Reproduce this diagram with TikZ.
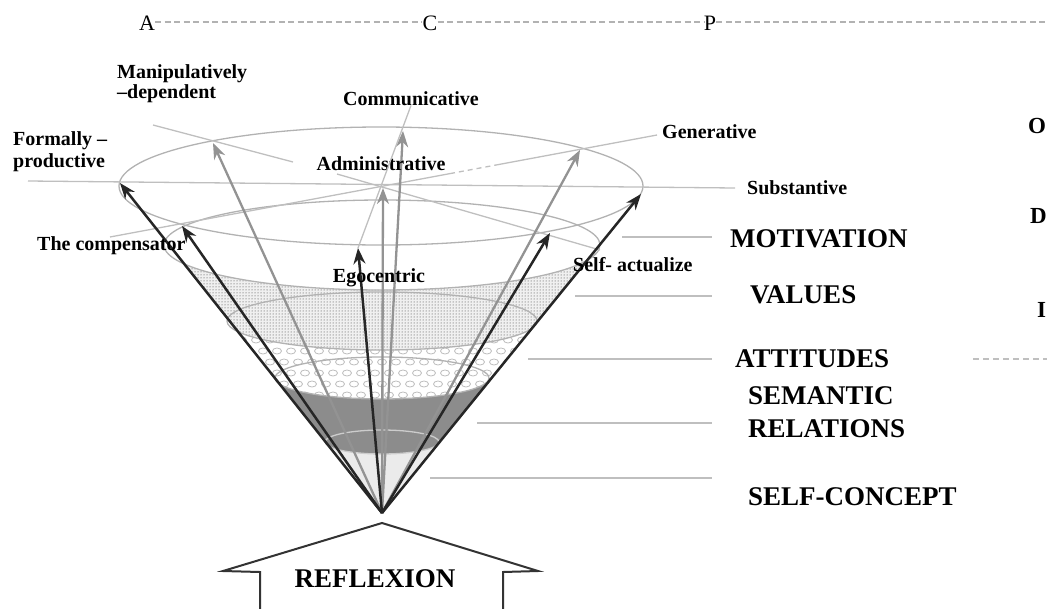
\documentclass[tikz,border=0pt]{standalone}
\usepackage{fontspec}
\setmainfont{Liberation Serif}
\usetikzlibrary{arrows.meta,patterns}

\newcommand{\lbl}{\fontsize{20}{22}\selectfont\bfseries}
\newcommand{\lvl}{\fontsize{27}{29}\selectfont\bfseries}

\begin{document}
\begin{tikzpicture}[x=1pt,y=-1pt,
    rim/.style={gray!60,line width=1.3pt},
    leader/.style={gray!50,line width=1.3pt},
    darkarrow/.style={black!85,line width=2.5pt,-{Stealth[length=16pt,width=12pt]}},
    greyarrow/.style={gray!85,line width=2.3pt,-{Stealth[length=16pt,width=12pt]}},
    tag/.style={inner sep=0pt,anchor=base west,font=\lbl},
    level/.style={inner sep=0pt,anchor=base west,font=\lvl}]
    \useasboundingbox (0,0) rectangle (1047,608);

    % apex and arrow tips
    \coordinate (apex) at (382,513);
    \coordinate (tipF) at (120,183);
    \coordinate (tipT) at (182,226);
    \coordinate (tipE) at (358,248);
    \coordinate (tipS1) at (550,233);
    \coordinate (tipS2) at (641,194);
    \coordinate (tipM) at (213,143);
    \coordinate (tipA) at (383,188);
    \coordinate (tipC) at (403,131);
    \coordinate (tipG) at (580,150);

    % layers inside the cone
    \begin{scope}
        \clip (apex) -- (tipF) -- (tipS2) -- cycle;
        \fill[black!6] (0,245) -- (164,245) arc[start angle=180,end angle=0,x radius=218,y radius=45] -- (1047,245) -- (1047,608) -- (0,608) -- cycle;
        \fill[pattern=dots,pattern color=black!80] (0,245) -- (164,245) arc[start angle=180,end angle=0,x radius=218,y radius=45] -- (1047,245) -- (1047,608) -- (0,608) -- cycle;
        \begin{scope}
            \clip (0,321) -- (227,321) arc[start angle=180,end angle=0,x radius=155,y radius=29] -- (1047,321) -- (1047,608) -- (0,608) -- cycle;
            \fill[white] (0,290) rectangle (1047,608);
            \foreach \r [evaluate=\r as \off using {7*mod(\r,2)}] in {0,...,6}
                \foreach \c in {0,...,24}
                    \draw[gray!50,line width=0.8pt] ({214+14*\c+\off},{340+11*\r}) ellipse [x radius=4.5,y radius=3];
        \end{scope}
        \fill[black!45] (0,378) -- (275,378) arc[start angle=180,end angle=0,x radius=107,y radius=21] -- (1047,378) -- (1047,608) -- (0,608) -- cycle;
        \fill[black!8] (0,442) -- (325,442) arc[start angle=180,end angle=0,x radius=57,y radius=12] -- (1047,442) -- (1047,608) -- (0,608) -- cycle;
    \end{scope}

    % rims
    \draw[rim] (381,186) ellipse [x radius=262,y radius=59];
    \draw[rim] (382,245) ellipse [x radius=218,y radius=45];
    \draw[rim] (382,321) ellipse [x radius=155,y radius=29];
    \draw[rim] (382,378) ellipse [x radius=107,y radius=21];
    \draw[rim,gray!40] (382,442) ellipse [x radius=57,y radius=12];

    % leader lines
    \coordinate (hzL) at (28,181);
    \coordinate (hzR) at (735,188);
    \coordinate (dgL) at (110,237);
    \coordinate (dgA) at (450,173.6);
    \coordinate (dgB) at (495,165.2);
    \coordinate (dgR) at (657,135);
    \coordinate (xL) at (337,174);
    \coordinate (xR) at (600,250);
    \coordinate (mL) at (153,125);
    \coordinate (mR) at (293,162);
    \draw[leader] (hzL) -- (hzR);
    \draw[leader] (dgL) -- (dgA);
    \draw[leader,dash pattern=on 5pt off 4pt] (dgA) -- (dgB);
    \draw[leader] (dgB) -- (dgR);
    \draw[leader] (xL) -- (xR);
    \draw[leader] (mL) -- (mR);

    % arrows from the apex
    \draw[greyarrow] (apex) -- (tipM);
    \draw[greyarrow] (apex) -- (tipA);
    \draw[greyarrow] (apex) -- (tipC);
    \draw[greyarrow] (apex) -- (tipG);
    \draw[darkarrow] (apex) -- (tipF);
    \draw[darkarrow] (apex) -- (tipT);
    \draw[darkarrow] (apex) -- (tipE);
    \draw[darkarrow] (apex) -- (tipS1);
    \draw[darkarrow] (apex) -- (tipS2);

    % type labels
    \node[tag] (manip) at (117,78) {Manipulatively};
    \node[tag] (dep) at (117,98) {–dependent};
    \node[tag] (form) at (13,145) {Formally –};
    \node[tag] (prod) at (13,167) {productive};
    \node[tag] (comp) at (37,250) {The compensator};
    \node[tag,anchor=base] (comm) at (411,105) {Communicative};
    \node[tag,anchor=base] (admin) at (381,170) {Administrative};
    \node[tag] (gen) at (662,138) {Generative};
    \node[tag] (subst) at (747,194) {Substantive};
    \node[tag,anchor=base] (ego) at (379,282) {Egocentric};
    \node[tag] (selfa) at (573,271) {Self- actualize};
    \draw[leader] (tipE) -- (comm.south);

    % level labels
    \node[level] (motiv) at (730,247) {MOTIVATION};
    \node[level] (values) at (750,303) {VALUES};
    \node[level] (att) at (735,367) {ATTITUDES};
    \node[level] (sem) at (748,404) {SEMANTIC};
    \node[level] (rel) at (748,437) {RELATIONS};
    \node[level] (selfc) at (748,505) {SELF-CONCEPT};
    \draw[leader] (622,237) -- (712,237);
    \draw[leader] (575,296) -- (712,296);
    \draw[leader] (528,359) -- (712,359);
    \draw[leader] (477,423) -- (712,423);
    \draw[leader] (430,478) -- (712,478);
    \draw[leader,dash pattern=on 6pt off 4pt] (973,359) -- (1047,359);

    % letters at the right edge
    \node[level,font=\fontsize{23}{25}\selectfont\bfseries] (o) at (1028,133) {O};
    \node[level,font=\fontsize{23}{25}\selectfont\bfseries] (d) at (1030,223) {D};
    \node[level,font=\fontsize{23}{25}\selectfont\bfseries] (i) at (1037,317) {I};

    % A - C - P scale
    \node[inner sep=0pt,anchor=base,font=\fontsize{22}{24}\selectfont] (a) at (147,30) {A};
    \node[inner sep=0pt,anchor=base,font=\fontsize{22}{24}\selectfont] (c) at (430,30) {C};
    \node[inner sep=0pt,anchor=base,font=\fontsize{22}{24}\selectfont] (p) at (710,30) {P};
    \coordinate (edge) at (1047,22);
    \draw[gray!60,line width=1.2pt,dash pattern=on 6pt off 3.5pt] (a.east |- 0,22) -- (c.west |- 0,22);
    \draw[gray!60,line width=1.2pt,dash pattern=on 6pt off 3.5pt] (c.east |- 0,22) -- (p.west |- 0,22);
    \draw[gray!60,line width=1.2pt,dash pattern=on 6pt off 3.5pt] (p.east |- 0,22) -- (edge);

    % reflexion arrow
    \draw[black!80,line width=2pt,line join=miter] (260,610) -- (260,572) -- (223,571) -- (382,523) -- (538,571) -- (503,572) -- (503,610);
    \node[level,anchor=base] (refl) at (375,587) {REFLEXION};
\end{tikzpicture}
\end{document}
